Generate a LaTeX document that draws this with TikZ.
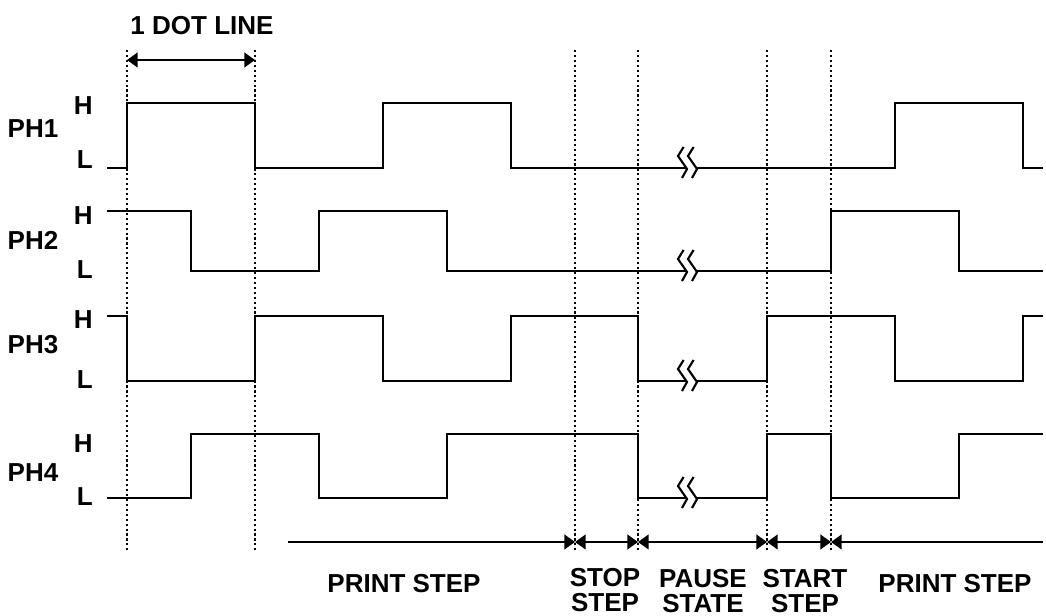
\documentclass[tikz,border=0pt]{standalone}
\usepackage{fontspec}
\setmainfont{Liberation Sans}
\usetikzlibrary{arrows.meta}
\tikzset{
  sig/.style={line width=1.9pt},
  dotline/.style={line width=1.6pt, dash pattern=on 1.6pt off 2.1pt},
  dim/.style={line width=1.6pt},
  lbl/.style={inner sep=0pt, align=center, font=\bfseries\fontsize{19.5}{18.5}\selectfont},
  brk/.pic={
    \draw[line width=1.6pt] (5.6,-21) -- (0,-12) -- (9,1) -- (4,10);
    \draw[line width=1.6pt] (15.6,-21) -- (10,-12) -- (19,1) -- (14,10);
  },
  >={Triangle[length=8pt,width=11pt]}
}
\begin{document}
\begin{tikzpicture}[x=0.75pt, y=-0.75pt]
  \useasboundingbox (0,0) rectangle (1046,616);

  % dotted time marks
  \foreach \x/\n in {127/a, 255/b, 575/c, 638/d, 767/e, 831/f} {
    \coordinate (t\n) at (\x,50);
    \coordinate (b\n) at (\x,552);
    \coordinate (m\n) at (\x,542);
    \draw[dotline] (t\n) -- (b\n);
  }

  % labels on the left
  \foreach \n/\y/\h/\l in {1/129/106/160, 2/240/216/270, 3/345/320/380, 4/473/444/497} {
    \node[lbl] (ph\n) at (33,\y) {PH\n};
    \node[lbl, anchor=east] (h\n) at (93,\h) {H};
    \node[lbl, anchor=east] (l\n) at (93,\l) {L};
  }

  % PH1
  \draw[sig] (107,168) -| (127,103) -| (255,168) -| (383,103) -| (511,168) -- (687,168);
  \draw[sig] (697,168) -| (895,103) -| (1023,168) -- (1043,168);
  \pic at (678,168) {brk};
  % PH2
  \draw[sig] (107,211) -| (191,271) -| (319,211) -| (447,271) -- (687,271);
  \draw[sig] (697,271) -| (831,211) -| (959,271) -- (1043,271);
  \pic at (678,271) {brk};
  % PH3
  \draw[sig] (107,316) -| (127,381) -| (255,316) -| (383,381) -| (511,316) -| (638,381) -- (687,381);
  \draw[sig] (697,381) -| (767,316) -| (895,381) -| (1023,316) -- (1043,316);
  \pic at (678,381) {brk};
  % PH4
  \draw[sig] (107,498) -| (191,434) -| (319,498) -| (447,434) -| (638,498) -- (687,498);
  \draw[sig] (697,498) -| (767,434) -| (831,498) -| (959,434) -- (1043,434);
  \pic at (678,498) {brk};

  % 1 dot line
  \coordinate (u1) at (127,60);
  \coordinate (u2) at (255,60);
  \draw[dim, <->] (u1) -- (u2);
  \node[lbl] (dot) at (202,25.5) {1 DOT LINE};

  % step arrows
  \coordinate (ps) at (288,542);
  \coordinate (pe) at (1043,542);
  \draw[dim, ->] (ps) -- (mc);
  \draw[dim, <->] (mc) -- (md);
  \draw[dim, <->] (md) -- (me);
  \draw[dim, <->] (me) -- (mf);
  \draw[dim, <-] (mf) -- (pe);

  \node[lbl] (print1) at (404,584) {PRINT STEP};
  \node[lbl] (stop) at (605,590) {STOP\\STEP};
  \node[lbl] (pause) at (703,591) {PAUSE\\STATE};
  \node[lbl] (start) at (805,591) {START\\STEP};
  \node[lbl] (print2) at (955,584) {PRINT STEP};
\end{tikzpicture}
\end{document}
